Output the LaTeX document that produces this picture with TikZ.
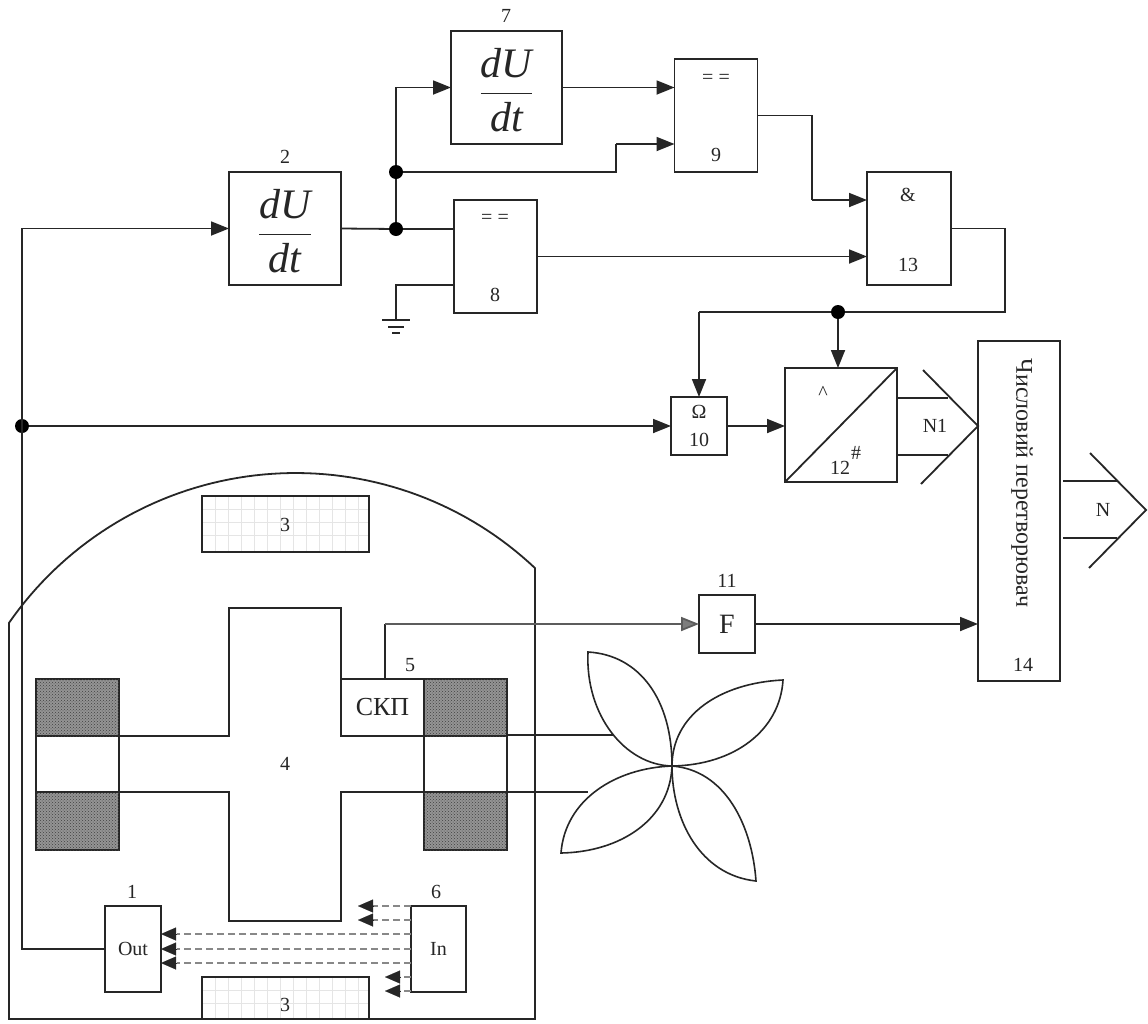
\documentclass[tikz,border=0pt]{standalone}
\usepackage{fontspec}
\setmainfont{Liberation Serif}
\usetikzlibrary{arrows.meta,patterns}
\definecolor{ink}{HTML}{262626}
\tikzset{
  every path/.style={line join=miter},
  ln/.style={draw=ink,line width=1.8pt},
  boxx/.style={draw=ink,line width=1.8pt,inner sep=0pt,outer sep=0pt,text=ink,font=\fontsize{20}{22}\selectfont},
  arr/.style={draw=ink,line width=1.8pt,-{Triangle[length=18pt,width=14pt]}},
  grayarr/.style={draw=ink!75,line width=1.8pt,-{Triangle[length=18pt,width=14pt,fill=ink!60]}},
  dashln/.style={draw=ink!55,line width=1.1pt,dash pattern=on 7pt off 4pt},
  tiponly/.style={draw=ink,line width=.1pt,-{Triangle[length=15pt,width=13pt]}},
  lab/.style={inner sep=0pt,outer sep=0pt,text=ink,font=\fontsize{20}{22}\selectfont},
  jdot/.style={circle,fill=black,inner sep=0pt,outer sep=0pt,minimum size=14pt},
  coil/.style={draw=ink,line width=1.8pt,fill=black!42,postaction={pattern=crosshatch dots,pattern color=black!75}},
  frc/.style={font=\fontsize{42}{46}\selectfont},
  petal/.style={draw=ink,line width=1.6pt,fill=white}
}
\newcommand{\dudtfrac}{\ensuremath{\displaystyle\frac{\mbox{\itshape dU\rule[-14pt]{0pt}{48pt}}}{\mbox{\rule{0pt}{37pt}\itshape dt}}}}
\begin{document}
\begin{tikzpicture}[x=1pt,y=-1pt]
\useasboundingbox (0,0) rectangle (1148,1023);
\fill[white] (0,0) rectangle (1148,1023);
% blocks
\node[boxx,frc,minimum width=112pt,minimum height=113pt] (b2) at (285,228.5) {\dudtfrac};
\node[boxx,frc,minimum width=111pt,minimum height=113pt] (b7) at (506.5,87.5) {\dudtfrac};
\node[boxx,minimum width=83pt,minimum height=113pt] (b8) at (495.5,256.5) {};
\node[boxx,minimum width=83pt,minimum height=113pt] (b9) at (716,115.5) {};
\node[boxx,minimum width=84pt,minimum height=113pt] (b13) at (909,228.5) {};
\node[boxx,minimum width=56pt,minimum height=58pt] (b10) at (699,426) {};
\node[boxx,minimum width=112pt,minimum height=114pt] (b12) at (841,425) {};
\node[boxx,minimum width=82pt,minimum height=340pt] (b14) at (1019,511) {};
\node[boxx,minimum width=56pt,minimum height=58pt,font=\fontsize{28}{30}\selectfont] (bF) at (727,624) {F};
% labels
\node[lab] (t2) at (285,157) {2};
\node[lab] (t7) at (506,16) {7};
\node[lab] (t8e) at (495,219) {= =};
\node[lab] (t8) at (495,295) {8};
\node[lab] (t9e) at (716,79) {= =};
\node[lab] (t9) at (716,155) {9};
\node[lab] (t13e) at (908,195) {\&};
\node[lab] (t13) at (908,265) {13};
\node[lab] (tom) at (699,412) {Ω};
\node[lab] (t10) at (699,440) {10};
\node[lab] (tcar) at (823,393) {\textasciicircum};
\node[lab] (t12) at (840,468) {12};
\node[lab] (thash) at (856,453) {\#};
\node[lab] (tN1) at (935,426) {N1};
\node[lab] (tN) at (1103,510) {N};
\node[lab] (t11) at (727,581) {11};
\node[lab,rotate=-90,font=\fontsize{24}{26}\selectfont] (tconv) at (1022,483) {Числовий перетворювач};
\node[lab] (t14) at (1023,665) {14};
% housing
\draw[ln] (9,1019) -- (9,623) -- plot[domain=145.2:46.7,samples=70] ({295.6+349*cos(\x)},{822-349*sin(\x)}) -- (535,1019) -- cycle;
% poles 3
\node[boxx,minimum width=167pt,minimum height=56pt] (p3a) at (285.5,524) {};
\node[boxx,fill=white,minimum width=167pt,minimum height=42pt] (p3b) at (285.5,998) {};
\foreach \gx in {215,228,...,365} {
  \draw[black!10,line width=.5pt] (\gx,497) -- (\gx,551);
  \draw[black!10,line width=.5pt] (\gx,978) -- (\gx,1018);
}
\foreach \gy in {509,522,535} \draw[black!10,line width=.5pt] (203,\gy) -- (368,\gy);
\foreach \gy in {990,1003} \draw[black!10,line width=.5pt] (203,\gy) -- (368,\gy);
\node[lab] (t3a) at (285,525) {3};
\node[lab] (t3b) at (285,1005) {3};
% rotor
\draw[ln] (119,736) -- (229,736) -- (229,608) -- (341,608) -- (341,736) -- (424,736)
          (119,792) -- (229,792) -- (229,921) -- (341,921) -- (341,792) -- (424,792);
\node[lab] (t4) at (285,764) {4};
% coils
\draw[coil] (36,679) rectangle (119,736);
\draw[coil] (36,792) rectangle (119,850);
\draw[ln] (36,736) -- (36,792) (119,736) -- (119,792);
\draw[coil] (424,679) rectangle (507,736);
\draw[coil] (424,792) rectangle (507,850);
\draw[ln] (424,736) -- (424,792) (507,736) -- (507,792);
% shaft lines and blades
\draw[ln] (507,735) -- (614,735);
\draw[ln] (507,792) -- (588,792);
\coordinate (hub) at (672,766);
\draw[petal] (hub) .. controls (672,700) and (640,655) .. (588,652) .. controls (585,715) and (625,765) .. (hub);
\draw[petal] (hub) .. controls (672,715) and (720,683) .. (783,680) .. controls (780,730) and (735,765) .. (hub);
\draw[petal] (hub) .. controls (615,768) and (565,800) .. (561,853) .. controls (620,852) and (670,820) .. (hub);
\draw[petal] (hub) .. controls (725,770) and (752,825) .. (756,881) .. controls (700,875) and (672,820) .. (hub);
% sensor
\node[boxx,minimum width=83pt,minimum height=57pt,font=\fontsize{26}{28}\selectfont] (skp) at (382.5,707.5) {СКП};
\node[lab] (t5) at (410,665) {5};
\coordinate (skpa) at (385,679);
\coordinate (skpb) at (385,624);
\draw[ln] (skpa) -- (skpb);
\draw[grayarr] (skpb) -- (bF.west);
% out / in
\node[boxx,minimum width=56pt,minimum height=86pt] (out) at (133,949) {Out};
\node[boxx,minimum width=55pt,minimum height=86pt] (in) at (438.5,949) {In};
\node[lab] (t1) at (132,892) {1};
\node[lab] (t6) at (436,892) {6};
\foreach \yy in {934,949,963} {
  \draw[dashln] (in.west |- 0,\yy) -- (177,\yy);
  \draw[tiponly] (177,\yy) -- (out.east |- 0,\yy);
}
\foreach \yy in {906,920} {
  \draw[dashln] (in.west |- 0,\yy) -- (372,\yy);
  \draw[tiponly] (373,\yy) -- (358,\yy);
}
\foreach \yy in {977,991} {
  \draw[dashln] (in.west |- 0,\yy) -- (400,\yy);
  \draw[tiponly] (400,\yy) -- (385,\yy);
}
% signal junctions
\node[jdot] (j1) at (396,229) {};
\node[jdot] (j2) at (396,172) {};
\node[jdot] (j3) at (838,312) {};
\node[jdot] (j4) at (22,426) {};
% connectors
\draw[ln] (out.west) -| (j4.center);
\draw[arr] (j4.center) |- (b2.west);
\draw[arr] (j4) -- (b10.west);
\draw[ln] (b2.east) -- (j1);
\draw[ln] (j1) -- (b8.west |- j1);
\draw[ln] (j1) -- (j2);
\draw[arr] (j2) |- (b7.west);
\coordinate (k9a) at (616,172);
\coordinate (k9b) at (616,144);
\draw[ln] (j2) -- (k9a) -- (k9b);
\draw[arr] (k9b) -- (b9.west |- k9b);
\draw[arr] (b7.east) -- (b9.west |- b7.east);
\coordinate (k13a) at (812,115.5);
\coordinate (k13b) at (812,200);
\draw[ln] (b9.east) -- (k13a) -- (k13b);
\draw[arr] (k13b) -- (b13.west |- k13b);
\draw[arr] (b8.east) -- (b13.west |- b8.east);
% ground
\coordinate (g0) at (396,285);
\coordinate (g1) at (396,320);
\draw[ln] (b8.west |- g0) -- (g0) -- (g1);
\draw[ln] (382,320) -- (410,320) (388,327) -- (404,327) (392,333) -- (400,333);
% enable bus
\coordinate (k14a) at (1005,228.5);
\coordinate (k14b) at (1005,312);
\coordinate (k14c) at (699,312);
\draw[ln] (b13.east) -- (k14a) -- (k14b) -- (j3) -- (k14c);
\draw[arr] (k14c) -- (b10.north);
\draw[arr] (j3) -- (b12.north -| j3);
\draw[arr] (b10.east) -- (b12.west |- b10.east);
\draw[ln] (b12.south west) -- (b12.north east);
% buses
\coordinate (n1a) at (948,398);
\coordinate (n1b) at (948,455);
\draw[ln] (b12.east |- n1a) -- (n1a) (b12.east |- n1b) -- (n1b);
\draw[ln] (923,370) -- (978,426) -- (921,484);
\coordinate (na) at (1117,481);
\coordinate (nb) at (1117,538);
\draw[ln] (1063,481) -- (na) (1063,538) -- (nb);
\draw[ln] (1090,453) -- (1146,510) -- (1089,568);
\draw[arr] (bF.east) -- (b14.west |- bF.east);
\end{tikzpicture}
\end{document}
